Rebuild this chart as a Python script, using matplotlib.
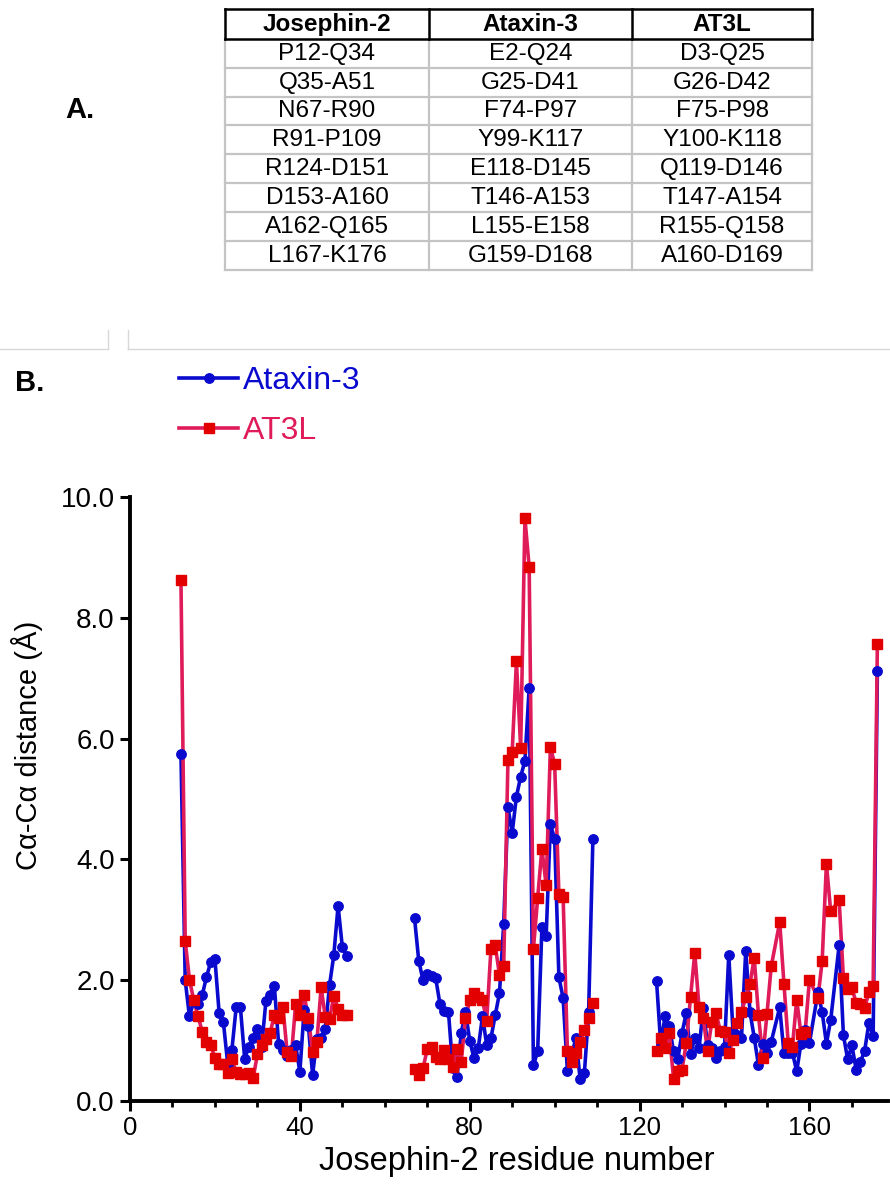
import matplotlib
matplotlib.use("Agg")
import matplotlib.pyplot as plt
from matplotlib.lines import Line2D
from matplotlib.ticker import MultipleLocator, FormatStrFormatter

plt.rcParams["font.family"] = ["Liberation Sans", "DejaVu Sans"]

# ---- table (panel A) ----
TABLE_HEADER = ["Josephin-2", "Ataxin-3", "AT3L"]
JOSEPHIN2_RANGES = ["P12-Q34", "Q35-A51", "N67-R90", "R91-P109",
                    "R124-D151", "D153-A160", "A162-Q165", "L167-K176"]
ATAXIN3_RANGES = ["E2-Q24", "G25-D41", "F74-P97", "Y99-K117",
                  "E118-D145", "T146-A153", "L155-E158", "G159-D168"]
AT3L_RANGES = ["D3-Q25", "G26-D42", "F75-P98", "Y100-K118",
               "Q119-D146", "T147-A154", "R155-Q158", "A160-D169"]

# ---- distance data (panel B), one list per aligned segment ----
RES_SEG1 = list(range(12, 52))
RES_SEG2 = list(range(67, 110))
RES_SEG3 = (list(range(124, 152)) + list(range(153, 161))
            + list(range(162, 166)) + list(range(167, 177)))

ATX3_SEG1 = [5.75, 2.00, 1.40, 1.65, 1.60, 1.75, 2.05, 2.30, 2.35, 1.45,
             1.30, 0.62, 0.85, 1.55, 1.55, 0.70, 0.90, 1.05, 1.20, 0.90,
             1.65, 1.75, 1.90, 0.94, 0.85, 0.75, 0.85, 0.93, 0.48, 1.50,
             1.25, 0.43, 1.02, 1.05, 1.20, 1.92, 2.42, 3.23, 2.55, 2.40]
AT3L_SEG1 = [8.62, 2.65, 2.01, 1.67, 1.41, 1.15, 0.97, 0.93, 0.71, 0.62,
             0.61, 0.46, 0.69, 0.48, 0.44, 0.45, 0.47, 0.38, 0.77, 0.92,
             1.02, 1.12, 1.43, 1.38, 1.56, 0.81, 0.74, 1.60, 1.43, 1.76,
             1.37, 0.81, 0.97, 1.88, 1.39, 1.36, 1.74, 1.53, 1.42, 1.42]

ATX3_SEG2 = [3.03, 2.32, 2.00, 2.10, 2.07, 2.03, 1.60, 1.49, 1.47, 0.55,
             0.39, 1.12, 1.48, 1.00, 0.71, 0.87, 1.40, 0.93, 1.04, 1.42,
             1.78, 2.93, 4.86, 4.44, 5.04, 5.37, 5.63, 6.84, 0.59, 0.82,
             2.88, 2.73, 4.58, 4.34, 2.05, 1.70, 0.50, 0.75, 1.05, 0.36,
             0.46, 1.47, 4.33]
AT3L_SEG2 = [0.53, 0.43, 0.54, 0.86, 0.90, 0.73, 0.69, 0.85, 0.70, 0.56,
             0.86, 0.65, 1.37, 1.67, 1.78, 1.73, 1.67, 1.33, 2.52, 2.58,
             2.09, 2.23, 5.64, 5.78, 7.28, 5.84, 9.65, 8.84, 2.52, 3.36,
             4.18, 3.57, 5.86, 5.58, 3.42, 3.37, 0.83, 0.65, 0.79, 0.98,
             1.18, 1.37, 1.62]

ATX3_SEG3 = [1.98, 0.92, 1.41, 1.24, 0.82, 0.69, 1.13, 1.46, 0.77, 1.05,
             0.87, 1.54, 0.92, 0.88, 0.72, 0.82, 0.90, 2.42, 1.15, 1.10,
             1.05, 2.49, 1.47, 1.05, 0.59, 0.95, 0.79, 0.98,
             1.55, 0.79, 0.80, 0.80, 0.49, 0.95, 1.18, 0.96,
             1.80, 1.47, 0.95, 1.34,
             2.58, 1.09, 0.69, 0.92, 0.52, 0.65, 0.83, 1.29, 1.08, 7.12]
AT3L_SEG3 = [0.82, 1.05, 0.88, 1.13, 0.37, 0.49, 0.52, 0.96, 1.72, 2.45,
             1.55, 1.37, 0.83, 1.31, 1.46, 1.16, 1.15, 0.79, 1.01, 1.29,
             1.47, 1.72, 1.94, 2.37, 1.42, 0.72, 1.44, 2.23,
             2.96, 1.94, 0.96, 0.90, 1.68, 1.11, 1.15, 2.01,
             1.70, 2.32, 3.93, 3.14,
             3.32, 2.03, 1.85, 1.88, 1.62, 1.60, 1.54, 1.80, 1.90, 7.57]

SEGMENTS = [
    (RES_SEG1, ATX3_SEG1, AT3L_SEG1),
    (RES_SEG2, ATX3_SEG2, AT3L_SEG2),
    (RES_SEG3, ATX3_SEG3, AT3L_SEG3),
]

BLUE = "#0A0ACF"
CRIMSON = "#DF1B5A"
RED = "#E30000"

W, H = 890, 1186
fig = plt.figure(figsize=(W / 100, H / 100), dpi=100)


def fx(px):
    return px / W


def fy(py):
    return 1 - py / H


# ---- panel A table ----
tab = fig.add_axes([fx(225), fy(270), fx(812 - 225), (270 - 9) / H])
tab.set_xlim(0, 587)
tab.set_ylim(261, 0)
tab.axis("off")
col_edges = [0, 204, 407, 587]
row_edges = [0, 30, 58.7, 87.7, 116, 145, 174, 203, 232, 261]
grey = "#c4c4c4"
n_rows = len(JOSEPHIN2_RANGES)
for yy in row_edges[2:]:
    tab.plot([0, 587], [yy, yy], color=grey, lw=1.6, clip_on=False, zorder=1)
for xx in col_edges:
    tab.plot([xx, xx], [30, 261], color=grey, lw=1.6, clip_on=False, zorder=1)
for xx in col_edges:
    tab.plot([xx, xx], [0, 30], color="black", lw=1.8, clip_on=False, zorder=2)
for yy in row_edges[:2]:
    tab.plot([0, 587], [yy, yy], color="black", lw=1.8, clip_on=False, zorder=2)

columns = [JOSEPHIN2_RANGES, ATAXIN3_RANGES, AT3L_RANGES]
for c, head in enumerate(TABLE_HEADER):
    cx = (col_edges[c] + col_edges[c + 1]) / 2
    tab.text(cx, 15.5, head, ha="center", va="center", fontsize=17.5,
             fontweight="bold")
    for r in range(n_rows):
        cy = (row_edges[r + 1] + row_edges[r + 2]) / 2 + 0.5
        tab.text(cx, cy, columns[c][r], ha="center", va="center",
                 fontsize=17.5)

fig.text(fx(65), fy(110), "A.", fontsize=21, fontweight="bold",
         ha="left", va="center")

# thin grey frame remnants
grey_line = "#d8d8d8"
fig.add_artist(Line2D([0, fx(108)], [fy(349), fy(349)], color=grey_line, lw=1))
fig.add_artist(Line2D([fx(108), fx(108)], [fy(330), fy(349)], color=grey_line, lw=1))
fig.add_artist(Line2D([fx(128), fx(128)], [fy(330), fy(349)], color=grey_line, lw=1))
fig.add_artist(Line2D([fx(128), 1], [fy(349), fy(349)], color=grey_line, lw=1))

fig.text(fx(15), fy(383), "B.", fontsize=21, fontweight="bold",
         ha="left", va="center")

# ---- panel B plot ----
ax = fig.add_axes([fx(130), fy(1101), fx(888 - 130), (1101 - 497) / H])

for res, atx, at3l in SEGMENTS:
    ax.plot(res, atx, color=BLUE, lw=2.6, zorder=2)
    ax.plot(res, at3l, color=CRIMSON, lw=2.6, zorder=3)
for res, atx, at3l in SEGMENTS:
    ax.plot(res, atx, ls="none", marker="o", ms=6.8, color=BLUE, zorder=4)
    ax.plot(res, at3l, ls="none", marker="s", ms=6.8, color=RED, zorder=5)

ax.set_xlim(0, 178.5)
ax.set_ylim(0, 10)
ax.xaxis.set_major_locator(MultipleLocator(40))
ax.xaxis.set_minor_locator(MultipleLocator(10))
ax.yaxis.set_major_locator(MultipleLocator(2))
ax.yaxis.set_major_formatter(FormatStrFormatter("%.1f"))
for side in ["top", "right"]:
    ax.spines[side].set_visible(False)
for side in ["left", "bottom"]:
    ax.spines[side].set_linewidth(2.8)
ax.tick_params(axis="both", which="major", direction="out", length=7,
               width=2.2)
ax.tick_params(axis="x", which="minor", direction="out", length=4, width=2.0)
ax.tick_params(axis="x", which="major", labelsize=18.5, pad=4)
ax.tick_params(axis="y", which="major", labelsize=20, pad=4)

ax.set_xlabel("Josephin-2 residue number", fontsize=23.5)
ax.xaxis.set_label_coords(0.51, -0.074)
ax.set_ylabel("C\u03b1-C\u03b1 distance (\u00c5)", fontsize=21)
ax.yaxis.set_label_coords(-0.115, 0.588)

handles = [
    Line2D([], [], color=BLUE, lw=2.6, marker="o", ms=6.8,
           markerfacecolor=BLUE, markeredgecolor=BLUE),
    Line2D([], [], color=CRIMSON, lw=2.6, marker="s", ms=6.8,
           markerfacecolor=RED, markeredgecolor=RED),
]
leg = fig.legend(handles, ["Ataxin-3", "AT3L"], loc="upper left",
                 bbox_to_anchor=(fx(179), fy(366)), frameon=False,
                 fontsize=23, handlelength=1.85, handletextpad=0.15,
                 labelspacing=0.62, borderpad=0, borderaxespad=0)
for txt, col in zip(leg.get_texts(), [BLUE, CRIMSON]):
    txt.set_color(col)

fig.savefig("out.png", dpi=100)
